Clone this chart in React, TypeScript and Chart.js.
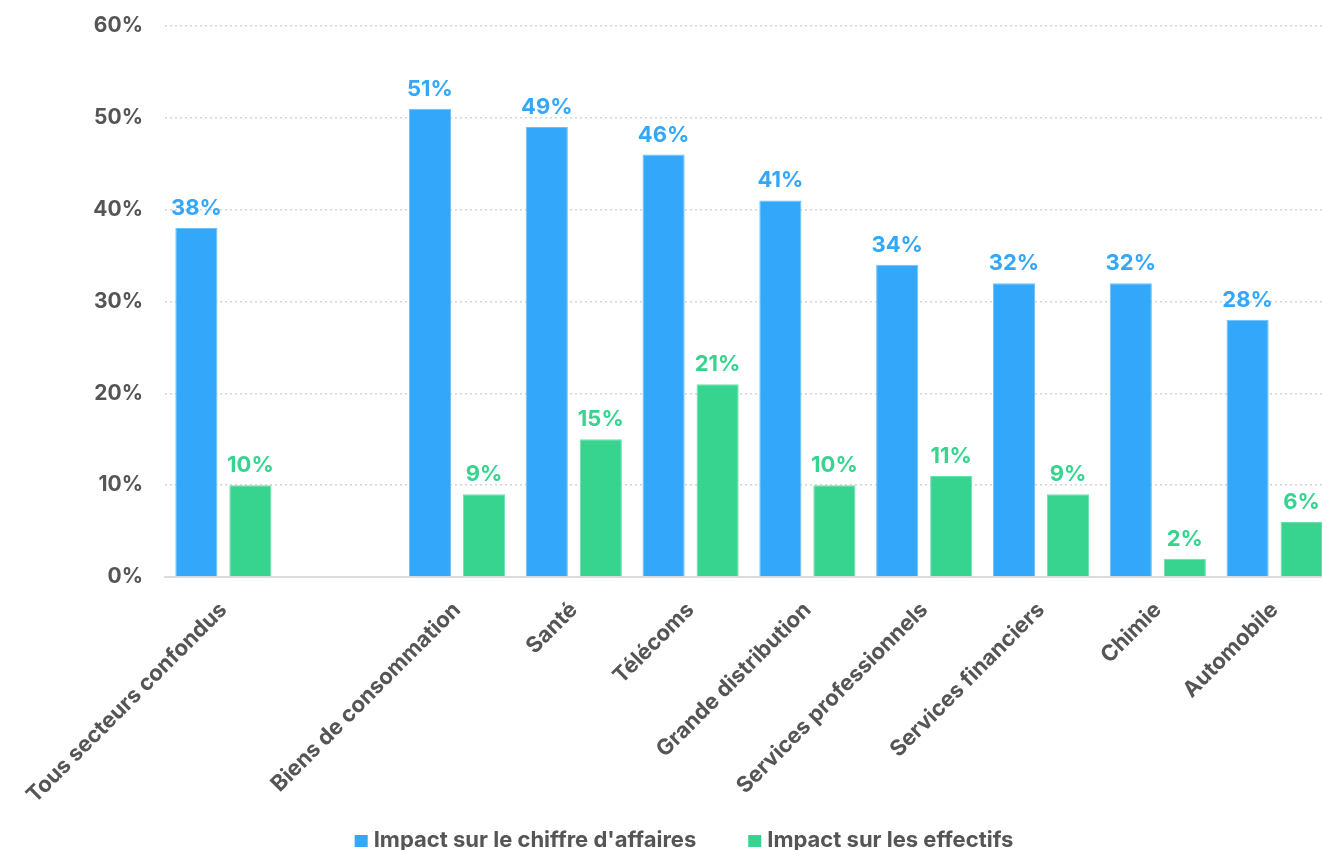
import React, { useEffect, useRef } from "react";
import { Chart, registerables } from "chart.js";

Chart.register(...registerables);

const categories = [
  "Tous secteurs confondus",
  "",
  "Biens de consommation",
  "Santé",
  "Télécoms",
  "Grande distribution",
  "Services professionnels",
  "Services financiers",
  "Chimie",
  "Automobile",
];
const revenueImpact = [38, null, 51, 49, 46, 41, 34, 32, 32, 28];
const staffImpact = [10, null, 9, 15, 21, 10, 11, 9, 2, 6];
const yTicks = [0, 10, 20, 30, 40, 50, 60];

const BLUE = "#33A8FB";
const GREEN = "#36D48F";
const TEXT = "#555555";
const FONT = "Inter";

const valueLabels = {
  id: "valueLabels",
  afterDatasetsDraw(chart: any) {
    const ctx = chart.ctx;
    ctx.save();
    ctx.font = `bold 22px ${FONT}`;
    ctx.textAlign = "center";
    ctx.textBaseline = "alphabetic";
    chart.data.datasets.forEach((ds: any, di: number) => {
      const meta = chart.getDatasetMeta(di);
      ctx.fillStyle = ds.backgroundColor;
      meta.data.forEach((el: any, i: number) => {
        const v = ds.data[i];
        if (v === null || v === undefined) return;
        ctx.fillText(`${v}%`, el.x, el.y - 13);
      });
    });
    ctx.restore();
  },
};

const customLegend = {
  id: "customLegend",
  afterDraw(chart: any) {
    const ctx = chart.ctx;
    ctx.save();
    ctx.font = `bold 22px ${FONT}`;
    ctx.textBaseline = "alphabetic";
    ctx.textAlign = "left";
    const box = 13;
    const gapBox = 6;
    const gapItem = 52;
    const items = chart.data.datasets.map((ds: any) => ({
      label: ds.label,
      color: ds.backgroundColor,
      w: box + gapBox + ctx.measureText(ds.label).width,
    }));
    const total = items.reduce((s: number, it: any) => s + it.w, 0) + gapItem * (items.length - 1);
    let x = 684 - total / 2;
    const baseline = 847;
    items.forEach((it: any) => {
      ctx.fillStyle = it.color;
      ctx.fillRect(x, baseline - 12, box, 12);
      ctx.fillStyle = TEXT;
      ctx.fillText(it.label, x + box + gapBox, baseline);
      x += it.w + gapItem;
    });
    ctx.restore();
  },
};

export default function App() {
  const ref = useRef<HTMLCanvasElement>(null);
  useEffect(() => {
    document.body.style.margin = "0";
    document.body.style.overflow = "hidden";
    const chart = new Chart(ref.current!, {
      type: "bar",
      data: {
        labels: categories,
        datasets: [
          {
            label: "Impact sur le chiffre d'affaires",
            data: revenueImpact,
            backgroundColor: BLUE,
            borderColor: "#6cc0fb",
            borderWidth: 1,
            categoryPercentage: 0.925,
            barPercentage: 0.78,
          },
          {
            label: "Impact sur les effectifs",
            data: staffImpact,
            backgroundColor: GREEN,
            borderColor: "#6de0ae",
            borderWidth: 1,
            categoryPercentage: 0.925,
            barPercentage: 0.78,
          },
        ],
      },
      options: {
        responsive: false,
        animation: false,
        layout: { padding: { top: 26, left: 0, right: 0, bottom: 0 } },
        plugins: {
          legend: { display: false },
          tooltip: { enabled: false },
        },
        scales: {
          x: {
            grid: { display: false },
            border: { display: true, color: "#dddddd", width: 2 },
            ticks: {
              color: TEXT,
              font: { family: FONT, size: 22, weight: "bold" },
              minRotation: 45,
              maxRotation: 45,
              autoSkip: false,
              padding: 12,
            },
            afterFit(scale: any) {
              scale.height = 273;
            },
          },
          y: {
            min: 0,
            max: 60,
            afterBuildTicks(scale: any) {
              scale.ticks = yTicks.map((v) => ({ value: v }));
            },
            grid: {
              color: "#d4d4d4",
              drawTicks: false,
              lineWidth: 1.5,
            },
            border: { display: false, dash: [2, 3] },
            ticks: {
              color: TEXT,
              padding: 22,
              font: { family: FONT, size: 21, weight: "bold" },
              callback: (v: any) => `${v}%`,
            },
            afterFit(scale: any) {
              scale.width = 165;
              scale.paddingTop = 10;
              scale.paddingBottom = 10;
            },
          },
        },
      },
      plugins: [valueLabels, customLegend],
    });
    return () => chart.destroy();
  }, []);
  return (
    <div style={{ width: 1322, height: 850, overflow: "hidden", position: "relative" }}>
      <canvas ref={ref} width={1333} height={850} style={{ display: "block" }} />
    </div>
  );
}
